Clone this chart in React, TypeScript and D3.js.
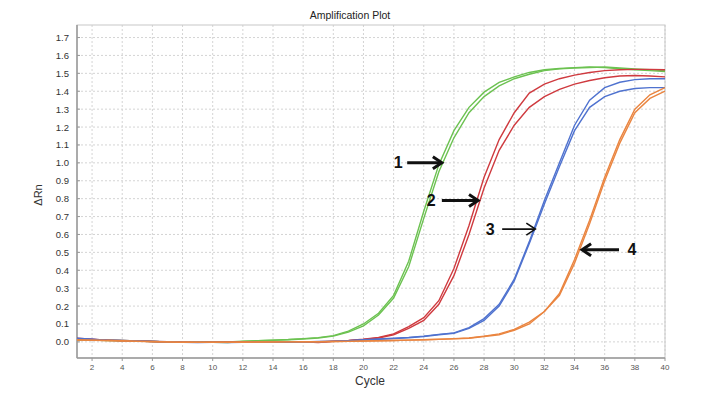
import React from 'react';
import * as d3 from 'd3';

const cycles = d3.range(1, 41);

// two replicate traces per sample (deltaRn by cycle 1..40)
const green1 = [0.015, 0.012, 0.01, 0.008, 0.005, 0.003, 0.0, -0.002, -0.002, -0.001, 0.0, 0.004, 0.007, 0.01, 0.013, 0.018, 0.024, 0.035, 0.06, 0.1, 0.16, 0.26, 0.45, 0.73, 0.99, 1.18, 1.31, 1.395, 1.45, 1.48, 1.505, 1.52, 1.527, 1.532, 1.535, 1.532, 1.526, 1.52, 1.515, 1.51];
const green2 = [0.01, 0.01, 0.008, 0.006, 0.004, 0.002, -0.001, -0.003, -0.003, -0.002, -0.004, 0.002, 0.006, 0.009, 0.012, 0.016, 0.022, 0.032, 0.055, 0.09, 0.15, 0.245, 0.42, 0.69, 0.95, 1.14, 1.28, 1.37, 1.43, 1.47, 1.495, 1.515, 1.525, 1.53, 1.533, 1.535, 1.53, 1.525, 1.52, 1.515];
const red1 = [0.02, 0.015, 0.01, 0.008, 0.005, 0.003, 0.001, -0.002, -0.003, -0.002, -0.002, -0.001, 0.0, 0.0, 0.001, 0.001, -0.002, 0.004, 0.008, 0.015, 0.025, 0.045, 0.085, 0.135, 0.23, 0.41, 0.65, 0.92, 1.13, 1.28, 1.39, 1.44, 1.47, 1.49, 1.505, 1.515, 1.52, 1.522, 1.522, 1.52];
const red2 = [0.018, 0.014, 0.01, 0.007, 0.004, 0.002, 0.0, -0.002, -0.003, -0.003, -0.002, -0.002, -0.001, 0.0, 0.0, 0.001, -0.003, 0.003, 0.007, 0.013, 0.022, 0.04, 0.075, 0.12, 0.21, 0.37, 0.6, 0.86, 1.07, 1.21, 1.31, 1.37, 1.41, 1.44, 1.46, 1.475, 1.485, 1.488, 1.485, 1.48];
const blue1 = [0.02, 0.015, 0.01, 0.008, 0.005, 0.003, 0.001, -0.002, -0.003, -0.003, -0.004, -0.003, -0.002, -0.002, -0.001, 0.0, 0.002, 0.004, 0.007, 0.012, 0.016, 0.02, 0.025, 0.032, 0.042, 0.05, 0.08, 0.13, 0.21, 0.35, 0.56, 0.79, 1.0, 1.21, 1.35, 1.42, 1.45, 1.465, 1.47, 1.47];
const blue2 = [0.016, 0.013, 0.009, 0.007, 0.004, 0.002, 0.0, -0.003, -0.004, -0.003, -0.003, -0.003, -0.002, -0.001, -0.001, 0.0, 0.001, 0.003, 0.006, 0.01, 0.014, 0.018, 0.023, 0.03, 0.04, 0.048, 0.075, 0.12, 0.2, 0.34, 0.55, 0.77, 0.98, 1.18, 1.31, 1.37, 1.4, 1.415, 1.42, 1.42];
const orange1 = [0.01, 0.009, 0.008, 0.006, 0.004, 0.002, 0.0, -0.002, -0.002, -0.002, -0.002, -0.002, -0.001, -0.001, 0.0, 0.0, 0.001, 0.002, 0.003, 0.004, 0.006, 0.008, 0.01, 0.012, 0.014, 0.017, 0.02, 0.03, 0.04, 0.065, 0.1, 0.17, 0.27, 0.46, 0.68, 0.92, 1.13, 1.3, 1.38, 1.42];
const orange2 = [0.012, 0.01, 0.008, 0.005, 0.003, 0.001, -0.001, -0.002, -0.003, -0.002, -0.002, -0.001, -0.001, 0.0, 0.0, 0.001, 0.001, 0.002, 0.003, 0.005, 0.006, 0.008, 0.01, 0.012, 0.015, 0.018, 0.022, 0.032, 0.045, 0.07, 0.11, 0.17, 0.26, 0.44, 0.66, 0.9, 1.11, 1.28, 1.36, 1.4];

const series = [
  { name: 'green1', values: green1, color: '#6cc251' },
  { name: 'green2', values: green2, color: '#6cc251' },
  { name: 'red1', values: red1, color: '#cf3a3f' },
  { name: 'red2', values: red2, color: '#cf3a3f' },
  { name: 'blue1', values: blue1, color: '#4f72cf' },
  { name: 'blue2', values: blue2, color: '#4f72cf' },
  { name: 'orange1', values: orange1, color: '#ea8540' },
  { name: 'orange2', values: orange2, color: '#ea8540' },
];

const yTicks = [0, 0.1, 0.2, 0.3, 0.4, 0.5, 0.6, 0.7, 0.8, 0.9, 1.0, 1.1, 1.2, 1.3, 1.4, 1.5, 1.6, 1.7];
const xTicks = d3.range(2, 41, 2);

// arrow annotations in data units: tail cycle, tip cycle, deltaRn, label cycle
const notes = [
  { label: '1', from: 22.9, to: 25.2, y: 1.0, at: 22.3, bold: true },
  { label: '2', from: 25.2, to: 27.6, y: 0.79, at: 24.5, bold: true },
  { label: '3', from: 29.2, to: 31.4, y: 0.63, at: 28.4, bold: false },
  { label: '4', from: 36.95, to: 34.5, y: 0.514, at: 37.8, bold: true },
];

const W = 707;
const H = 397;
const left = 77, right = 665, top = 25, bottom = 358;

export default function App() {
  const x = d3.scaleLinear().domain([1, 40]).range([left, right]);
  const y = d3.scaleLinear().domain([-0.09, 1.77]).range([bottom, top]);
  const line = d3.line<number>().x((_, i) => x(cycles[i])).y(d => y(d));
  const font = '"Liberation Sans", Arial, sans-serif';

  return (
    <svg width={W} height={H} style={{ position: 'absolute', left: 0, top: 0, background: '#fff' }} fontFamily={font}>
      <text x={350} y={19} textAnchor="middle" fontSize={10.5} fill="#222">Amplification Plot</text>

      {/* grid */}
      {yTicks.map(t => (
        <line key={'gy' + t} x1={left} x2={right} y1={y(t)} y2={y(t)} stroke="#d4d4d4" strokeDasharray="2,2" />
      ))}
      {xTicks.map(t => (
        <line key={'gx' + t} x1={x(t)} x2={x(t)} y1={top} y2={bottom} stroke="#d4d4d4" strokeDasharray="2,2" />
      ))}

      {/* frame */}
      <rect x={left} y={top} width={right - left} height={bottom - top} fill="none" stroke="#c8c8c8" />
      <line x1={left} x2={left} y1={top} y2={bottom} stroke="#999" strokeWidth={1.5} />
      <line x1={left} x2={right} y1={bottom} y2={bottom} stroke="#999" strokeWidth={1.5} />

      {/* y ticks */}
      {yTicks.map(t => (
        <g key={'ty' + t}>
          <line x1={left} x2={left + 3} y1={y(t)} y2={y(t)} stroke="#999" />
          <text x={69} y={y(t) + 3.5} textAnchor="end" fontSize={9.5} fill="#333">{t.toFixed(1)}</text>
        </g>
      ))}
      {xTicks.map(t => (
        <g key={'tx' + t}>
          <line x1={x(t)} x2={x(t)} y1={bottom} y2={bottom + 3} stroke="#999" />
          <text x={x(t)} y={370} textAnchor="middle" fontSize={8} fill="#555">{t}</text>
        </g>
      ))}

      <text x={370} y={385} textAnchor="middle" fontSize={12} fill="#333">Cycle</text>
      <text transform="translate(42,195) rotate(-90)" textAnchor="middle" fontSize={11} fill="#333">ΔRn</text>

      {/* curves */}
      {series.map(s => (
        <path key={s.name} d={line(s.values) || ''} fill="none" stroke={s.color} strokeWidth={1.4} />
      ))}

      {/* annotations */}
      {notes.map(n => {
        const x1 = x(n.from), x2 = x(n.to), yy = y(n.y);
        const dir = x2 > x1 ? 1 : -1;
        const sw = n.bold ? 3 : 1.6;
        const hx = x2 - dir * 9;
        return (
          <g key={'n' + n.label}>
            <line x1={x1} x2={x2 - dir * 1} y1={yy} y2={yy} stroke="#111" strokeWidth={sw} />
            <polyline points={`${hx},${yy - 6} ${x2},${yy} ${hx},${yy + 6}`} fill="none" stroke="#111" strokeWidth={sw} strokeLinejoin="miter" />
            <text x={x(n.at)} y={yy + 5.5} textAnchor="middle" fontSize={16} fontWeight="bold" fill="#111">{n.label}</text>
          </g>
        );
      })}
    </svg>
  );
}
